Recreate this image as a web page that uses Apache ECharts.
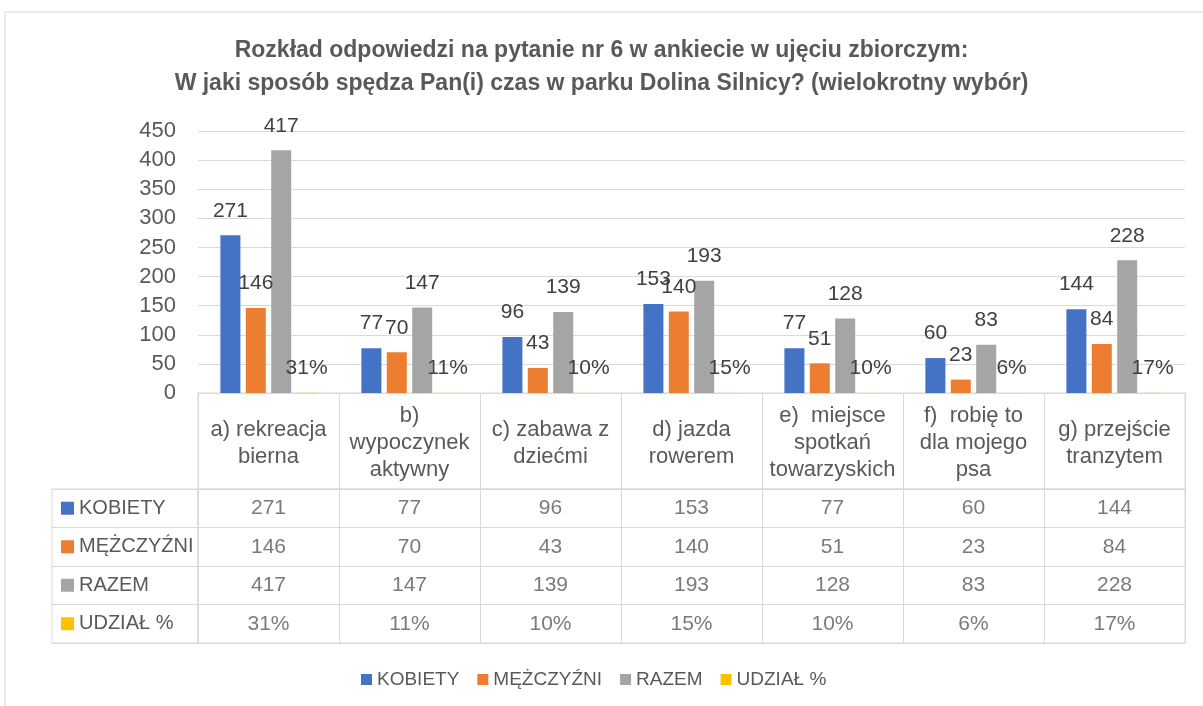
<!DOCTYPE html>
<html>
<head>
<meta charset="utf-8">
<script src="https://cdn.jsdelivr.net/npm/echarts@6/dist/echarts.min.js"></script>
<style>
  html, body { margin: 0; background: #fff; }
  #chart { width: 1203px; height: 706px; }
</style>
</head>
<body>
<div id="chart"></div>
<script>
// dane z wykresu
var categories = ['a) rekreacja\nbierna', 'b)\nwypoczynek\naktywny', 'c) zabawa z\ndziećmi', 'd) jazda\nrowerem',
  'e)  miejsce\nspotkań\ntowarzyskich', 'f)  robię to\ndla mojego\npsa', 'g) przejście\ntranzytem']
var rowNames = ['KOBIETY', 'MĘŻCZYŹNI', 'RAZEM', 'UDZIAŁ %']
var kobiety = [271, 77, 96, 153, 77, 60, 144]
var mezczyzni = [146, 70, 43, 140, 51, 23, 84]
var razem = [417, 147, 139, 193, 128, 83, 228]
var udzial = [0.31, 0.11, 0.10, 0.15, 0.10, 0.06, 0.17]
var yMin = 0
var yMax = 450
var yStep = 50

var colors = ['#4472C4', '#ED7D31', '#A5A5A5', '#FFC000']
var font = "'Liberation Sans', Arial, sans-serif"
var lineColor = '#d9d9d9'

function pct(v) {
  return Math.round(v * 100) + '%'
}

var rows = [kobiety, mezczyzni, razem, udzial]

// komórki tabeli
var cells = []
rows.forEach(function (arr, r) {
  arr.forEach(function (v, i) {
    cells.push([i, r, r === 3 ? pct(v) : String(v)])
  })
})

var chart = echarts.init(document.getElementById('chart'))

function barSeries(name, data, idx, isPct) {
  return {
    name: name,
    type: 'bar',
    xAxisIndex: 0,
    yAxisIndex: 0,
    barWidth: 20,
    barGap: '27%',
    itemStyle: { color: colors[idx] },
    label: {
      show: true,
      position: 'top',
      distance: 14,
      fontSize: 21,
      color: '#404040',
      formatter: function (p) { return isPct ? pct(p.value) : p.value }
    },
    data: data
  }
}

chart.setOption({
  backgroundColor: '#fff',
  textStyle: { fontFamily: font },
  title: {
    left: 'center',
    top: 29,
    padding: [5, 25, 5, 5],
    text: 'Rozkład odpowiedzi na pytanie nr 6 w ankiecie w ujęciu zbiorczym:\nW jaki sposób spędza Pan(i) czas w parku Dolina Silnicy? (wielokrotny wybór)',
    textStyle: {
      fontFamily: font,
      fontSize: 23,
      fontWeight: 'bold',
      color: '#595959',
      lineHeight: 33
    }
  },
  // ramka wykresu
  graphic: [{
    type: 'rect',
    silent: true,
    shape: { x: 5, y: 12, width: 1400, height: 900 },
    style: { fill: 'none', stroke: lineColor, lineWidth: 1 }
  }],
  legend: {
    left: 356,
    top: 665,
    icon: 'rect',
    itemWidth: 11,
    itemHeight: 11,
    itemGap: 18,
    data: rowNames,
    textStyle: { fontSize: 19, color: '#595959', fontFamily: font }
  },
  grid: [
    // wykres
    { left: 198, right: 18, top: 131, height: 262 },
    // naglowki kategorii
    { left: 198, right: 18, top: 393, height: 96, show: true, borderColor: lineColor, borderWidth: 1 },
    // nazwy wierszy
    { left: 52, width: 146, top: 489, height: 154, show: true, borderColor: lineColor, borderWidth: 1 },
    // wartosci
    { left: 198, right: 18, top: 489, height: 154, show: true, borderColor: lineColor, borderWidth: 1 }
  ],
  xAxis: [{
    gridIndex: 0,
    type: 'category',
    data: categories,
    axisTick: { show: false },
    axisLine: { lineStyle: { color: lineColor, width: 1 } },
    axisLabel: {
      interval: 0,
      margin: 50,
      verticalAlign: 'middle',
      lineHeight: 27,
      fontSize: 22,
      color: '#595959'
    }
  }, {
    gridIndex: 1,
    type: 'category',
    data: categories,
    axisTick: { show: false },
    axisLine: { show: false },
    axisLabel: { show: false },
    splitLine: { show: true, interval: 0, lineStyle: { color: lineColor } }
  }, {
    gridIndex: 2,
    type: 'value',
    show: false
  }, {
    gridIndex: 3,
    type: 'category',
    data: categories,
    axisTick: { show: false },
    axisLine: { show: false },
    axisLabel: { show: false },
    splitLine: { show: true, interval: 0, lineStyle: { color: lineColor } }
  }],
  yAxis: [{
    gridIndex: 0,
    type: 'value',
    min: yMin,
    max: yMax,
    interval: yStep,
    axisLine: { show: false },
    axisTick: { show: false },
    axisLabel: { margin: 22, fontSize: 22, color: '#595959' },
    splitLine: { lineStyle: { color: lineColor, width: 1 } }
  }, {
    gridIndex: 1,
    type: 'value',
    show: false
  }, {
    gridIndex: 2,
    type: 'category',
    inverse: true,
    data: rowNames,
    axisTick: { show: false },
    axisLine: { show: false },
    splitLine: { show: true, interval: 0, lineStyle: { color: lineColor } },
    axisLabel: {
      interval: 0,
      inside: true,
      margin: 9,
      formatter: function (v, i) { return '{s' + i + '|}{t|' + v + '}' },
      rich: {
        s0: { width: 13, height: 13, backgroundColor: colors[0] },
        s1: { width: 13, height: 13, backgroundColor: colors[1] },
        s2: { width: 13, height: 13, backgroundColor: colors[2] },
        s3: { width: 13, height: 13, backgroundColor: colors[3] },
        t: { fontSize: 20, color: '#595959', padding: [0, 0, 0, 5], fontFamily: font }
      }
    }
  }, {
    gridIndex: 3,
    type: 'category',
    inverse: true,
    data: rowNames,
    axisTick: { show: false },
    axisLine: { show: false },
    axisLabel: { show: false },
    splitLine: { show: true, interval: 0, lineStyle: { color: lineColor } }
  }],
  series: [
    barSeries('KOBIETY', kobiety, 0, false),
    barSeries('MĘŻCZYŹNI', mezczyzni, 1, false),
    barSeries('RAZEM', razem, 2, false),
    barSeries('UDZIAŁ %', udzial, 3, true),
    {
      name: 'tabela',
      type: 'scatter',
      xAxisIndex: 3,
      yAxisIndex: 3,
      symbolSize: 1,
      silent: true,
      itemStyle: { color: 'rgba(0,0,0,0)' },
      label: {
        show: true,
        position: 'inside',
        fontSize: 21,
        color: '#595959',
        formatter: function (p) { return p.value[2] }
      },
      data: cells
    }
  ]
})
</script>
</body>
</html>
